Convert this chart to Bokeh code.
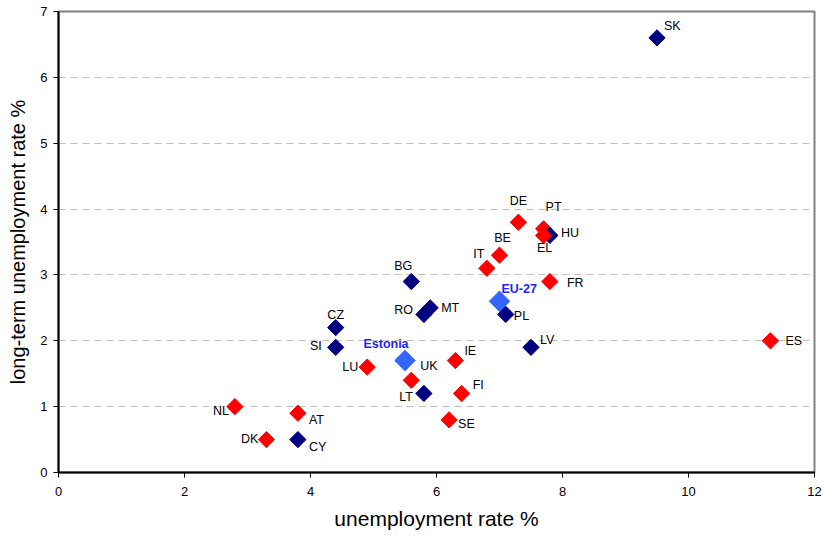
from bokeh.plotting import figure
from bokeh.models import ColumnDataSource, Range1d, FixedTicker
from bokeh.embed import file_html
from bokeh.resources import INLINE
from bokeh.core.properties import value
import math

# ---- data ----
countries = ["SK", "DE", "PT", "HU", "EL", "BE", "IT", "FR", "BG", "RO", "MT", "PL",
             "CZ", "SI", "LV", "ES", "IE", "LU", "UK", "LT", "FI", "SE", "NL", "AT",
             "DK", "CY"]
unemployment = [9.5, 7.3, 7.7, 7.8, 7.7, 7.0, 6.8, 7.8, 5.6, 5.8, 5.9, 7.1,
                4.4, 4.4, 7.5, 11.3, 6.3, 4.9, 5.6, 5.8, 6.4, 6.2, 2.8, 3.8,
                3.3, 3.8]
long_term = [6.6, 3.8, 3.7, 3.6, 3.6, 3.3, 3.1, 2.9, 2.9, 2.4, 2.5, 2.4,
             2.2, 1.9, 1.9, 2.0, 1.7, 1.6, 1.4, 1.2, 1.2, 0.8, 1.0, 0.9,
             0.5, 0.5]
group = ["new", "old", "old", "new", "old", "old", "old", "old", "new", "new", "new", "new",
         "new", "new", "new", "old", "old", "old", "old", "new", "old", "old", "old", "old",
         "old", "new"]

highlight_names = ["Estonia", "EU-27"]
highlight_unemployment = [5.5, 7.0]
highlight_long_term = [1.7, 2.6]

x_ticks = [0, 2, 4, 6, 8, 10, 12]
y_ticks = [0, 1, 2, 3, 4, 5, 6, 7]

# ---- label layout (screen px offsets: dx right, dy down; text alignment) ----
label_layout = {
    "SK": (7, -12, "left"), "DE": (0, -21, "center"), "PT": (10, -22, "center"),
    "HU": (11, -2, "left"), "EL": (1, 13, "center"), "BE": (3, -17, "center"),
    "IT": (-8, -14, "center"), "FR": (17, 1, "left"), "BG": (-8, -16, "center"),
    "RO": (-11, -4, "right"), "MT": (11, 0, "left"), "PL": (8, 2, "left"),
    "CZ": (0, -13, "center"), "SI": (-14, -1, "right"), "LV": (9, -7, "left"),
    "ES": (15, 0, "left"), "IE": (9, -10, "left"), "LU": (-9, 0, "right"),
    "UK": (9, -14, "left"), "LT": (-11, 4, "right"), "FI": (11, -8, "left"),
    "SE": (9, 4, "left"), "NL": (-6, 4, "right"), "AT": (11, 7, "left"),
    "DK": (-8, -1, "right"), "CY": (11, 7, "left"),
}
highlight_layout = {"Estonia": (-19, -17, "center"), "EU-27": (2, -12, "left")}

color_map = {"old": "#FF0000", "new": "#000080"}

src = ColumnDataSource(dict(
    x=unemployment, y=long_term, name=countries,
    color=[color_map[g] for g in group],
    dx=[label_layout[c][0] for c in countries],
    dy=[label_layout[c][1] for c in countries],
    align=[label_layout[c][2] for c in countries],
))
hsrc = ColumnDataSource(dict(
    x=highlight_unemployment, y=highlight_long_term, name=highlight_names,
    dx=[highlight_layout[c][0] for c in highlight_names],
    dy=[highlight_layout[c][1] for c in highlight_names],
    align=[highlight_layout[c][2] for c in highlight_names],
))

p = figure(width=824, height=539, output_backend="svg", toolbar_location=None,
           x_range=Range1d(0, 12), y_range=Range1d(0, 7),
           min_border_left=58, min_border_right=10, min_border_top=11, min_border_bottom=67)
p.background_fill_color = "white"
p.border_fill_color = "white"
p.outline_line_color = "#808080"
p.outline_line_width = 2

p.xgrid.grid_line_color = None
p.ygrid.grid_line_color = "#C0C0C0"
p.ygrid.grid_line_dash = "7 5"
p.ygrid.grid_line_width = 1

for ax in (p.xaxis[0], p.yaxis[0]):
    ax.axis_line_color = "black"
    ax.axis_line_width = 2
    ax.major_tick_line_color = "black"
    ax.major_tick_line_width = 1
    ax.major_tick_out = 5
    ax.major_tick_in = 0
    ax.minor_tick_line_color = None
    ax.major_label_text_font = "Liberation Sans"
    ax.major_label_text_font_size = "13px"
    ax.major_label_text_color = "black"
    ax.axis_label_text_font = "Liberation Sans"
    ax.axis_label_text_font_style = "normal"
    ax.axis_label_text_color = "black"

p.xaxis.ticker = FixedTicker(ticks=x_ticks)
p.yaxis.ticker = FixedTicker(ticks=y_ticks)
p.xaxis.major_label_standoff = 9
p.yaxis.major_label_standoff = 6
p.yaxis.axis_label = "long-term unemployment rate %"
p.yaxis.axis_label_text_font_size = "20px"
p.yaxis.axis_label_standoff = 8
p.xaxis.axis_label = "unemployment rate %"
p.xaxis.axis_label_text_font_size = "21px"
p.xaxis.axis_label_standoff = 8

p.scatter("x", "y", source=src, marker="square", size=11.5, angle=math.pi / 4,
          fill_color="color", line_color="color")
p.scatter("x", "y", source=hsrc, marker="square", size=14.5, angle=math.pi / 4,
          fill_color="#3366FF", line_color="#3366FF")

p.text("x", "y", text="name", source=src, x_offset="dx", y_offset="dy",
       text_align="align", text_baseline="middle", text_font=value("Liberation Sans"),
       text_font_size="12.5px", text_color="black")
p.text("x", "y", text="name", source=hsrc, x_offset="dx", y_offset="dy",
       text_align="align", text_baseline="middle", text_font=value("Liberation Sans"),
       text_font_size="12.5px", text_font_style="bold", text_color="#1F1FFF")

open("out.html", "w").write(file_html(p, INLINE))
